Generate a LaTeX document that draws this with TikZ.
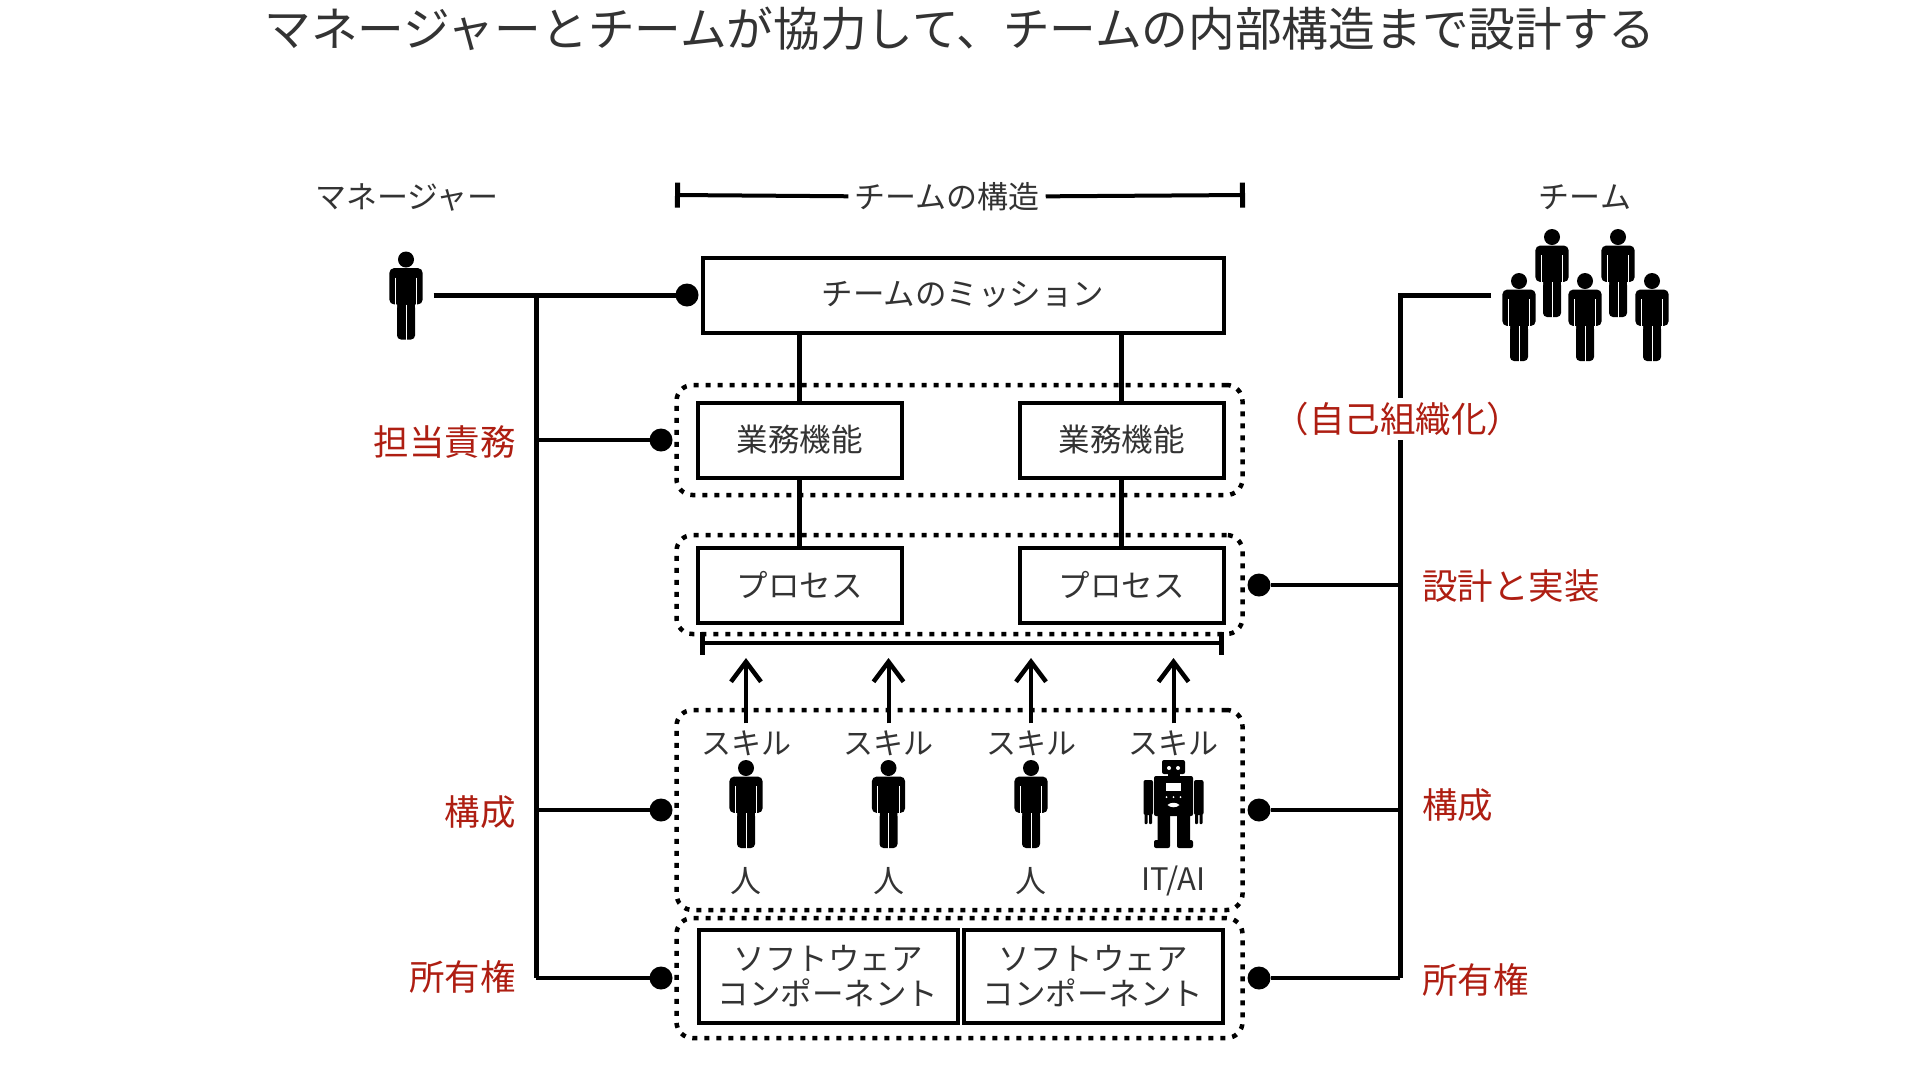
\documentclass[tikz,border=0pt]{standalone}
\usepackage{fontspec}
\setmainfont{Noto Sans CJK JP}
\usetikzlibrary{arrows.meta}
\definecolor{labelred}{HTML}{AE1E12}
\tikzstyle{plain} = [inner sep=0pt, font=\fontsize{31}{36}\selectfont, text=black!80]
\tikzstyle{skilltext} = [inner sep=0pt, inner ysep=7pt, font=\fontsize{30}{36}\selectfont, text=black!80]
\tikzstyle{titletext} = [inner sep=0pt, font=\fontsize{46.7}{54}\selectfont, text=black!80]
\tikzstyle{redlabel} = [inner sep=0pt, font=\fontsize{35.5}{42}\selectfont, text=labelred]
\tikzstyle{box} = [rectangle, draw=black, line width=4pt, minimum height=75pt, inner sep=0pt, outer sep=0pt, align=center, font=\fontsize{31.5}{35}\selectfont, text=black!80]
\tikzstyle{group} = [rectangle, draw=black, line width=4.5pt, rounded corners=16pt, dash pattern=on 5pt off 7pt, minimum width=566pt, inner sep=0pt, outer sep=0pt]
\tikzstyle{dotnode} = [circle, fill=black, minimum size=23pt, inner sep=0pt, outer sep=0pt]
\tikzstyle{icon} = [inner sep=0pt, outer sep=0pt]
\tikzstyle{link} = [line width=5pt, draw=black]
\tikzstyle{branch} = [line width=4pt, draw=black]
\tikzstyle{arrow} = [line width=4pt, draw=black, -{Straight Barb[length=20pt,width=30pt,line width=4.5pt]}]
\newsavebox{\personbox}
\sbox{\personbox}{\begin{tikzpicture}[x=1pt,y=-1pt]
    \path [use as bounding box] (-16.7,0) rectangle (16.7,88);
    \fill (0,8) circle (8);
    \fill [rounded corners=5pt] (-16.7,16.5) rectangle (16.7,53);
    \fill [rounded corners=4pt] (-9,40) rectangle (9,88);
    \draw [white, line width=0.8pt] (-10.8,26) -- (-10.8,54) (10.8,26) -- (10.8,54);
    \fill [white] (-17,53.2) rectangle (-9,56) (9,53.2) rectangle (17,56);
    \draw [white, line width=1pt] (0,53) -- (0,89);
\end{tikzpicture}}
\newsavebox{\robotbox}
\sbox{\robotbox}{\begin{tikzpicture}[x=1pt,y=-1pt]
    \path [use as bounding box] (-30,0) rectangle (30,88);
    \fill [rounded corners=2pt] (-11.5,0) rectangle (11.5,14);
    \fill (-6,13) rectangle (6,17);
    \fill [rounded corners=2pt] (-19.5,16) rectangle (19.5,56);
    \fill [rounded corners=2pt] (-30,20) rectangle (-20.5,55);
    \fill [rounded corners=2pt] (20.5,20) rectangle (30,55);
    \fill [rounded corners=1pt] (-29,54) rectangle (-26,64) (-24.5,54) rectangle (-21.5,64);
    \fill [rounded corners=1pt] (21.5,54) rectangle (24.5,64) (26,54) rectangle (29,64);
    \fill (-16,55) rectangle (-3.5,82) (3.5,55) rectangle (16.5,82);
    \fill [rounded corners=2pt] (-19.5,80) rectangle (-3.5,88) (3.5,80) rectangle (19.5,88);
    \fill [white] (-4.5,8) circle (2) (4.5,8) circle (2);
    \fill [white] (-7.5,23) rectangle (7.5,31);
    \fill [white] (-7,37) circle (1) (0,37) circle (1) (7,37) circle (1);
    \fill [white] (-6,45) .. controls (-3,42) and (3,42) .. (6,45) .. controls (3,48) and (-3,48) .. (-6,45);
\end{tikzpicture}}

\begin{document}
\begin{tikzpicture}[x=1pt,y=-1pt,node distance=145pt]
    \useasboundingbox (0,0) rectangle (1920,1080);
    \node (title) [titletext] at (960,29) {マネージャーとチームが協力して、チームの内部構造まで設計する};
    \node (managerlabel) [plain] at (407,197) {マネージャー};
    \node (teamlabel) [plain] at (1585,197) {チーム};
    \node (structlabel) [plain] at (947,197) {チームの構造};
    \coordinate (structleft) at (675,195);
    \coordinate (structright) at (1245,195);
    \draw [branch, {Bar[width=25pt,line width=5pt]}-, shorten >=6pt] (structleft) -- (structlabel);
    \draw [branch, -{Bar[width=25pt,line width=5pt]}, shorten <=6pt] (structlabel) -- (structright);
    % dotted groups
    \node (funcgroup) [group, minimum height=110pt] at (959.5,440) {};
    \node (procgroup) [group, minimum height=99pt] at (959.5,584.5) {};
    \node (skillgroup) [group, minimum height=200pt] at (959.5,810) {};
    \node (softgroup) [group, minimum height=120pt] at (959.5,978) {};
    % boxes
    \node (mission) [box, minimum width=521pt] at (963,295) {チームのミッション};
    \node (func1) [box, minimum width=204pt, below of=mission, xshift=-163.5pt] {業務機能};
    \node (func2) [box, minimum width=204pt, below of=mission, xshift=158.5pt] {業務機能};
    \node (proc1) [box, minimum width=204pt, below of=func1] {プロセス};
    \node (proc2) [box, minimum width=204pt, below of=func2] {プロセス};
    \node (soft1) [box, minimum width=259pt, minimum height=93pt] at (828,976.5) {ソフトウェア\\コンポーネント};
    \node (soft2) [box, minimum width=259pt, minimum height=93pt] at (1093,976.5) {ソフトウェア\\コンポーネント};
    \draw [link] (func1 |- mission.south) -- (func1);
    \draw [link] (func2 |- mission.south) -- (func2);
    \draw [link] (func1) -- (proc1);
    \draw [link] (func2) -- (proc2);
    % bracket under the processes
    \coordinate (bracketleft) at (700,643);
    \coordinate (bracketright) at (1224,643);
    \draw [branch, {Bar[width=23pt,line width=5pt]}-{Bar[width=23pt,line width=5pt]}] (bracketleft) -- (bracketright);
    % members
    \node (person1) [icon] at (746,804) {\usebox{\personbox}};
    \node (person2) [icon, right of=person1, node distance=142.5pt] {\usebox{\personbox}};
    \node (person3) [icon, right of=person2, node distance=142.5pt] {\usebox{\personbox}};
    \node (robot) [icon, right of=person3, node distance=142.5pt] {\usebox{\robotbox}};
    \foreach \name/\who/\what in {1/person1/人, 2/person2/人, 3/person3/人, 4/robot/{IT/AI}}{
        \node (skill\name) [skilltext] at (\who |- 0,743) {スキル};
        \node (kind\name) [plain] at (\who |- 0,881) {\what};
        \coordinate (top\name) at (\who |- 0,658);
        \draw [arrow] (skill\name) -- (top\name);
    }
    % manager side
    \node (manager) [icon] at (406,295.5) {\usebox{\personbox}};
    \node (dotmission) [dotnode] at (687,295) {};
    \node (dotfunc) [dotnode] at (661,440) {};
    \node (dotskill) [dotnode] at (661,810) {};
    \node (dotsoft) [dotnode] at (661,978) {};
    \coordinate (lefttop) at (536,295);
    \coordinate (leftbot) at (536,978);
    \draw [link, shorten <=11pt] (manager.east |- dotmission) -- (dotmission);
    \draw [link] (lefttop) -- (leftbot);
    \draw [branch] (lefttop |- dotfunc) -- (dotfunc);
    \draw [branch] (lefttop |- dotskill) -- (dotskill);
    \draw [branch] (leftbot) -- (dotsoft);
    \node (duty) [redlabel, anchor=east] at (516,442) {担当責務};
    \node (leftmake) [redlabel, anchor=east] at (516,812) {構成};
    \node (leftown) [redlabel, anchor=east] at (516,977) {所有権};
    % team side
    \node (team1) [icon] at (1519,317) {\usebox{\personbox}};
    \node (team2) [icon] at (1552,273) {\usebox{\personbox}};
    \node (team3) [icon] at (1585,317) {\usebox{\personbox}};
    \node (team4) [icon] at (1618,273) {\usebox{\personbox}};
    \node (team5) [icon] at (1652,317) {\usebox{\personbox}};
    \node (dotproc) [dotnode] at (1259,585) {};
    \node (dotskillr) [dotnode] at (1259,810) {};
    \node (dotsoftr) [dotnode] at (1259,978) {};
    \coordinate (teamend) at (1491,295);
    \coordinate (rightbot) at (1400,978);
    \draw [link] (teamend) -| (rightbot);
    \draw [branch] (rightbot |- dotproc) -- (dotproc);
    \draw [branch] (rightbot |- dotskillr) -- (dotskillr);
    \draw [branch] (rightbot) -- (dotsoftr);
    \node (selforg) [redlabel, fill=white, inner sep=4pt] at (1398,419) {（自己組織化）};
    \node (design) [redlabel, anchor=west] at (1422,586) {設計と実装};
    \node (rightmake) [redlabel, anchor=west] at (1422,805) {構成};
    \node (rightown) [redlabel, anchor=west] at (1422,980) {所有権};
\end{tikzpicture}
\end{document}
